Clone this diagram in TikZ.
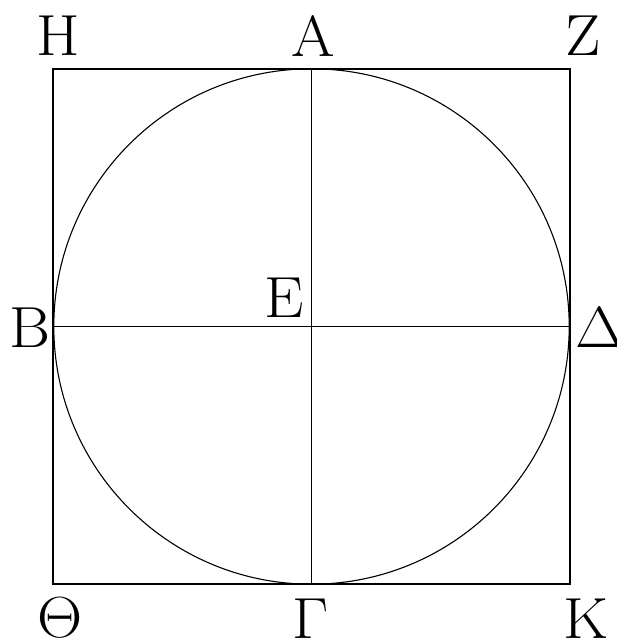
\documentclass[tikz,border=0pt]{standalone}
\begin{document}
\begin{tikzpicture}[x=1pt,y=-1pt,
  lbl/.style={inner sep=0pt,anchor=base,transform shape,xscale=2.52,yscale=2.33,font=\fontsize{24.88}{24.88}\selectfont},
  thin line/.style={line width=1.4pt, draw=black}]
\useasboundingbox (0,0) rectangle (617,639);
\coordinate (H0) at (53,69);
\coordinate (Z0) at (570,69);
\coordinate (K0) at (570,584);
\coordinate (T0) at (53,584);
\coordinate (A0) at (311.5,69);
\coordinate (G0) at (311.5,584);
\coordinate (B0) at (53,326.5);
\coordinate (D0) at (570,326.5);
\coordinate (E0) at (311.5,326.5);
\draw[thin line] (H0) -- (Z0) -- (K0) -- (T0) -- cycle;
\draw[thin line] (A0) -- (G0);
\draw[thin line] (B0) -- (D0);
\draw[line width=1.1pt] (E0) circle[radius=257.7];
\node[lbl] (H) at (58,56) {H};
\node[lbl] (A) at (313.5,57) {A};
\node[lbl] (Z) at (583,56) {Z};
\node[lbl] (B) at (30,347) {B};
\node[lbl] (E) at (284,317) {E};
\node[lbl] (D) at (600,347) {$\Delta$};
\node[lbl] (T) at (60,637) {$\Theta$};
\node[lbl] (G) at (311,638) {$\Gamma$};
\node[lbl] (K) at (586,638) {K};
\end{tikzpicture}
\end{document}
